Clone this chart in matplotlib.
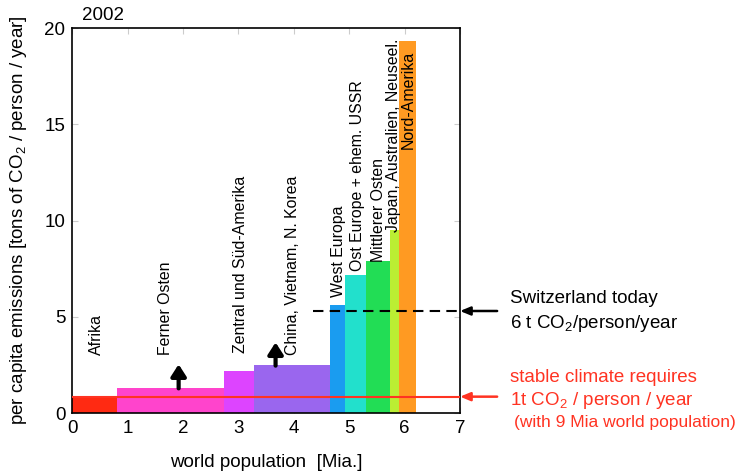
import matplotlib
matplotlib.use("Agg")
import matplotlib.pyplot as plt

plt.rcParams['font.family'] = ['Liberation Sans', 'DejaVu Sans']
plt.rcParams['mathtext.fontset'] = 'custom'
plt.rcParams['mathtext.rm'] = 'Liberation Sans'
plt.rcParams['mathtext.it'] = 'Liberation Sans:italic'
plt.rcParams['mathtext.bf'] = 'Liberation Sans:bold'
plt.rcParams['mathtext.default'] = 'rm'

regions = ["Afrika", "Ferner Osten", "Zentral und Süd-Amerika", "China, Vietnam, N. Korea",
           "West Europa", "Ost Europe + ehem. USSR", "Mittlerer Osten",
           "Japan, Australien, Neuseel.", "Nord-Amerika"]
population = [0.81, 1.93, 0.54, 1.38, 0.26, 0.38, 0.43, 0.17, 0.31]   # billions (bar widths)
emissions = [0.9, 1.3, 2.2, 2.5, 5.6, 7.15, 7.9, 9.5, 19.3]           # t CO2 / person / year
colors = ["#ff2a12", "#ff44cc", "#dd44ff", "#9a66ee", "#1a9cf0", "#22e0cc",
          "#22dd55", "#bbee33", "#ff9a22"]
label_x = [0.44, 1.69, 3.03, 3.97, 4.80, 5.15, 5.52, 5.80, 6.06]
label_y = [3.0, 3.0, 3.1, 3.0, 6.05, 7.4, 7.85, 9.4, 18.8]
label_inside = [False, False, False, False, False, False, False, False, True]

swiss_value = 5.3
stable_value = 0.85
arrow_x = [1.92, 3.67]
arrow_from = [1.28, 2.46]
arrow_to = [2.53, 3.67]

fig = plt.figure(figsize=(7.39, 4.73), dpi=100)
ax = fig.add_axes([0.0978, 0.1268, 0.5247, 0.814])

left = 0.0
lefts = []
for w in population:
    lefts.append(left)
    left += w
ax.bar(lefts, emissions, width=population, align='edge', color=colors, edgecolor='none', zorder=2)

for i, name in enumerate(regions):
    va = 'top' if label_inside[i] else 'bottom'
    ax.text(label_x[i], label_y[i], name, rotation=90, ha='center', va=va, fontsize=11.4, zorder=4)

# Switzerland dashed line
ax.plot([4.35, 7.0], [swiss_value, swiss_value], color='black', lw=1.5, ls=(0, (5, 3)), zorder=3)
# stable climate red line
ax.plot([0, 7.0], [stable_value, stable_value], color='#ff3322', lw=1.5, zorder=3)

for xa, y0, y1 in zip(arrow_x, arrow_from, arrow_to):
    ax.annotate("", xy=(xa, y1), xytext=(xa, y0),
                arrowprops=dict(arrowstyle="-|>,head_width=0.45,head_length=0.7", color='black', lw=3,
                                shrinkA=0, shrinkB=0), zorder=5)

ax.set_xlim(0, 7)
ax.set_ylim(0, 20)
ax.set_xticks(range(0, 8))
ax.set_yticks([0, 5, 10, 15, 20])
ax.tick_params(direction='in', length=4, color='#cccccc', labelsize=13.5, top=True, right=True, pad=5)
for s in ax.spines.values():
    s.set_linewidth(1.2)

ax.set_xlabel("world population  [Mia.]", fontsize=13.5, labelpad=12)
ax.set_ylabel("per capita emissions [tons of CO$_2$ / person / year]", fontsize=13.5, labelpad=11)
fig.text(82 / 739, 1 - 15 / 473, "2002", fontsize=13.5, ha='left', va='center')

# outside arrows
ax.annotate("", xy=(7.0, swiss_value), xytext=(7.67, swiss_value), xycoords='data',
            arrowprops=dict(arrowstyle="-|>,head_width=0.25,head_length=0.6", color='black', lw=1.8,
                            shrinkA=0, shrinkB=0), annotation_clip=False)
ax.annotate("", xy=(7.0, stable_value), xytext=(7.67, stable_value), xycoords='data',
            arrowprops=dict(arrowstyle="-|>,head_width=0.25,head_length=0.6", color='#ff3322', lw=1.8,
                            shrinkA=0, shrinkB=0), annotation_clip=False)

fig.text(510 / 739, 1 - 298 / 473, "Switzerland today", fontsize=13.5, va='center', ha='left')
fig.text(510 / 739, 1 - 323 / 473, "6 t CO$_2$/person/year", fontsize=13.5, va='center', ha='left')
red = '#ff3322'
fig.text(510 / 739, 1 - 378 / 473, "stable climate requires", fontsize=13.5, va='center', ha='left', color=red)
fig.text(510 / 739, 1 - 400 / 473, "1t CO$_2$ / person / year", fontsize=13.5, va='center', ha='left', color=red)
fig.text(514 / 739, 1 - 422 / 473, "(with 9 Mia world population)", fontsize=12.5, va='center', ha='left', color=red)

fig.savefig("out.png", dpi=100)
